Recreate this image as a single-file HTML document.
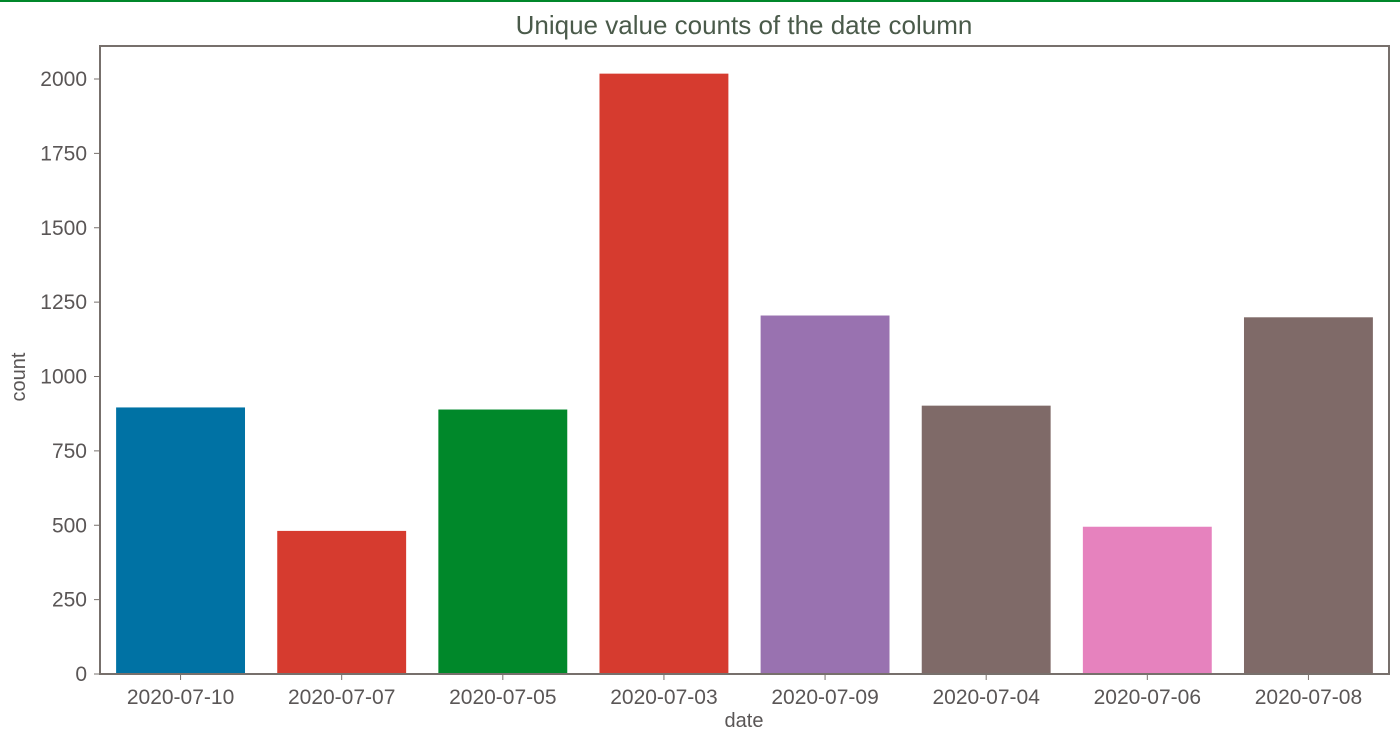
<!DOCTYPE html>
<html><head><meta charset="utf-8"><style>
html,body{margin:0;padding:0;background:#fff;}
svg{display:block;font-family:"Liberation Sans","DejaVu Sans",sans-serif;}
</style></head><body>
<svg id="chart" width="1400" height="747">
<line x1="0" y1="1" x2="1400" y2="1" stroke="#00872a" stroke-width="2"/>
<text x="744" y="34" text-anchor="middle" font-size="26" fill="#4a5a4a">Unique value counts of the date column</text>
<g id="bars"></g>
<g id="axes"></g>
<text x="744" y="727" text-anchor="middle" font-size="20" fill="#5a5656">date</text>
<text transform="translate(25,377) rotate(-90)" text-anchor="middle" font-size="20" fill="#5a5656">count</text>
<rect x="100" y="46" width="1289" height="628" fill="none" stroke="#77706c" stroke-width="2"/>
</svg>
<script>
const categories=["2020-07-10","2020-07-07","2020-07-05","2020-07-03","2020-07-09","2020-07-04","2020-07-06","2020-07-08"];
const counts=[896,481,889,2018,1205,902,495,1199];
const colors=["#0072a4","#d63b2f","#00882a","#d63b2f","#9972b0","#7f6a68","#e682be","#7f6a68"];
const yTicks=[0,250,500,750,1000,1250,1500,1750,2000];
const ns="http://www.w3.org/2000/svg";
const L=100,R=1389,T=46,B=674;
const y=v=>B-v*(B-79)/2000;
const band=(R-L)/categories.length;
const x=i=>L+band*i+band/2;
const bars=document.getElementById('bars'),axes=document.getElementById('axes');
categories.forEach((c,i)=>{
 const r=document.createElementNS(ns,'rect');
 const w=band*0.8;
 r.setAttribute('x',x(i)-w/2);r.setAttribute('width',w);
 r.setAttribute('y',y(counts[i]));r.setAttribute('height',B-y(counts[i]));
 r.setAttribute('fill',colors[i]);
 
 
 bars.appendChild(r);
 const t=document.createElementNS(ns,'line');
 t.setAttribute('x1',x(i));t.setAttribute('x2',x(i));t.setAttribute('y1',B);t.setAttribute('y2',B+6);t.setAttribute('stroke','#77706c');
 
 
 axes.appendChild(t);
 const l=document.createElementNS(ns,'text');
 l.setAttribute('x',x(i));l.setAttribute('y',B+30);l.setAttribute('text-anchor','middle');l.setAttribute('font-size','21');l.setAttribute('fill','#5a5656');
 l.textContent=c;
 
 
 axes.appendChild(l);
});
yTicks.forEach(v=>{
 const t=document.createElementNS(ns,'line');
 t.setAttribute('x1',L-6);t.setAttribute('x2',L);t.setAttribute('y1',y(v));t.setAttribute('y2',y(v));t.setAttribute('stroke','#77706c');
 
 
 axes.appendChild(t);
 const l=document.createElementNS(ns,'text');
 l.setAttribute('x',L-13);l.setAttribute('y',y(v)+7);l.setAttribute('text-anchor','end');l.setAttribute('font-size','21');l.setAttribute('fill','#5a5656');
 l.textContent=v;
 
 
 axes.appendChild(l);
});
</script>
</body></html>
